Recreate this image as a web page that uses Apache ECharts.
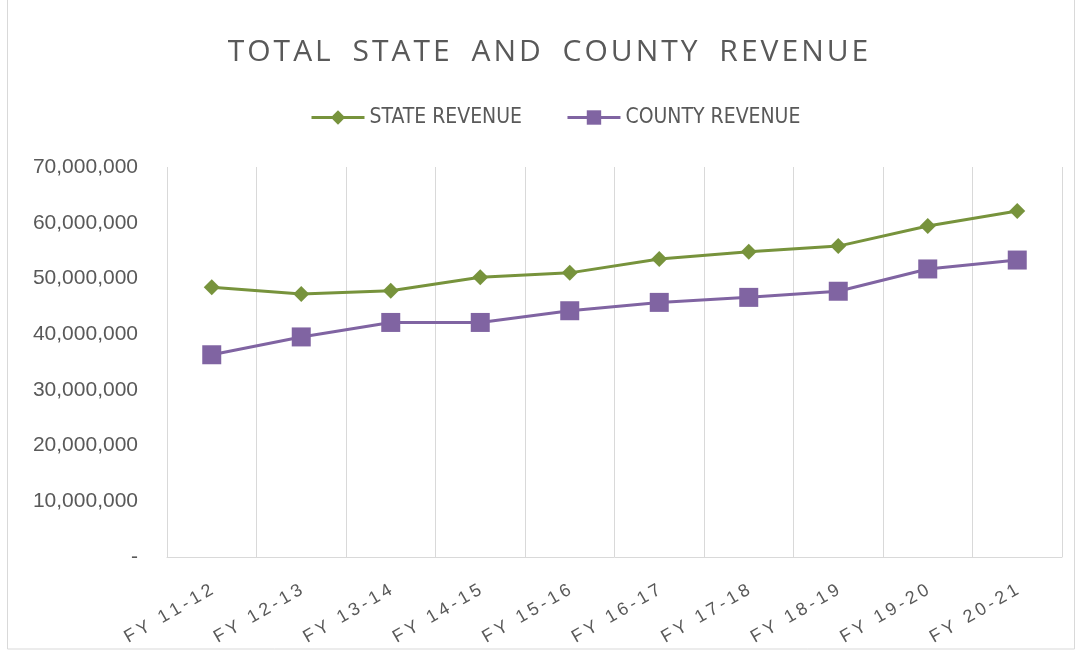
<!DOCTYPE html>
<html>
<head>
<meta charset="utf-8">
<title>Total State and County Revenue</title>
<script src="https://cdn.jsdelivr.net/npm/echarts@6/dist/echarts.min.js"></script>
<style>
  html, body { margin: 0; padding: 0; background: #fff; }
  #chart { width: 1079px; height: 655px; }
</style>
</head>
<body>
<div id="chart"></div>
<script>
// fiscal years on the x axis
const years = ['FY 11-12', 'FY 12-13', 'FY 13-14', 'FY 14-15', 'FY 15-16',
  'FY 16-17', 'FY 17-18', 'FY 18-19', 'FY 19-20', 'FY 20-21']

// revenue
const stateRevenue = [48400000, 47200000, 47800000, 50200000, 51000000,
  53500000, 54800000, 55800000, 59400000, 62100000]
const countyRevenue = [36300000, 39500000, 42100000, 42100000, 44200000,
  45700000, 46600000, 47700000, 51700000, 53300000]

const green = '#77933c'
const purple = '#8064a2'
const textColor = '#595959'

// excel spreads letters out a bit, fake it with thin spaces
const spread = (s, gap) => s.split('').join(gap)

const chart = echarts.init(document.getElementById('chart'))

chart.setOption({
  animation: false,
  title: {
    text: spread('TOTAL STATE AND COUNTY REVENUE', '\u200a').replace(/ /g, ' \u2009\u200a'),
    left: 543,
    textAlign: 'center',
    top: 32,
    textStyle: {
      fontFamily: 'Open Sans',
      fontSize: 30,
      fontWeight: 'normal',
      color: textColor,
    },
  },
  legend: {
    top: 102,
    left: 305,
    itemWidth: 53,
    itemHeight: 18,
    itemGap: 44,
    lineStyle: { width: 3 },
    textStyle: {
      fontFamily: 'DejaVu Sans Condensed',
      fontSize: 21,
      color: textColor,
    },
    data: ['STATE REVENUE', 'COUNTY REVENUE'],
  },
  grid: {
    left: 167,
    right: 17,
    top: 167,
    bottom: 98,
  },
  xAxis: {
    type: 'category',
    data: years,
    boundaryGap: true,
    axisLine: { lineStyle: { color: '#d9d9d9', width: 1 } },
    axisTick: { show: false },
    splitLine: { show: true, lineStyle: { color: '#d9d9d9', width: 1 } },
    axisLabel: {
      interval: 0,
      rotate: 30,
      margin: 32,
      fontFamily: 'Liberation Sans',
      fontSize: 18,
      color: textColor,
      formatter: (v) => spread(v, '\u2009'),
    },
  },
  yAxis: {
    type: 'value',
    min: 0,
    max: 70000000,
    interval: 10000000,
    axisLine: { show: false },
    axisTick: { show: false },
    splitLine: { show: false },
    axisLabel: {
      margin: 29,
      fontFamily: 'Liberation Sans',
      fontSize: 21,
      color: textColor,
      formatter: (v) => (v === 0 ? '-' : v.toLocaleString('en-US')),
    },
  },
  series: [
    {
      name: 'STATE REVENUE',
      type: 'line',
      data: stateRevenue,
      symbol: 'diamond',
      symbolSize: 16,
      lineStyle: { color: green, width: 3 },
      itemStyle: { color: green },
    },
    {
      name: 'COUNTY REVENUE',
      type: 'line',
      data: countyRevenue,
      symbol: 'rect',
      symbolSize: 19,
      lineStyle: { color: purple, width: 3 },
      itemStyle: { color: purple },
    },
  ],
  graphic: [
    {
      type: 'rect',
      shape: { x: 7.5, y: -1, width: 1067, height: 650 },
      style: { fill: 'none', stroke: '#d9d9d9', lineWidth: 1 },
      silent: true,
    },
  ],
})
</script>
</body>
</html>
